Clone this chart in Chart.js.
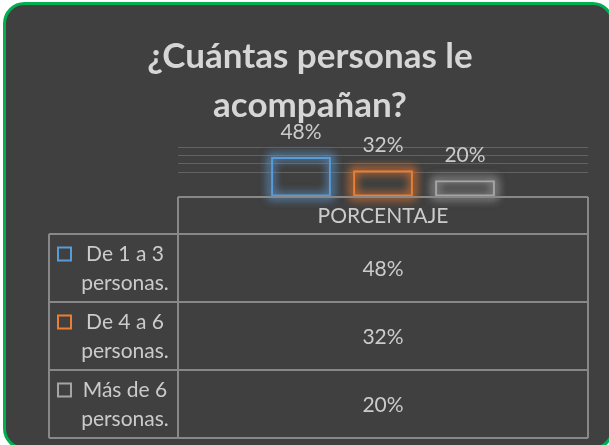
<!DOCTYPE html>
<html><head><meta charset="utf-8">
<script src="https://cdn.jsdelivr.net/npm/chart.js@4"></script>
<style>html,body{margin:0;padding:0;background:#fff;overflow:hidden}canvas{display:block}</style>
</head><body>
<canvas id="c" width="609" height="445"></canvas>
<script>
// ---- data ----
const titleLines = ['¿Cuántas personas le', 'acompañan?'];
const categories = ['PORCENTAJE'];
const seriesNames = ['De 1 a 3 personas.', 'De 4 a 6 personas.', 'Más de 6 personas.'];
const seriesLabelLines = [['De 1 a 3', 'personas.'], ['De 4 a 6', 'personas.'], ['Más de 6', 'personas.']];
const seriesValues = [0.48, 0.32, 0.20];
const seriesColors = ['#5b9bd5', '#ed7d31', '#a5a5a5'];
const yMin = 0, yMax = 0.6, yStep = 0.1;
const gridFrom = 0.3; // gridlines visible from this value upward

const pct = v => Math.round(v * 100) + '%';
const FONT = 'Lato, "Open Sans", sans-serif';
const TXT = '#cbcbcb';
const LINE = '#888888';

function roundRect(ctx, x, y, w, h, r) {
  ctx.beginPath();
  ctx.moveTo(x + r, y);
  ctx.lineTo(x + w - r, y); ctx.arcTo(x + w, y, x + w, y + r, r);
  ctx.lineTo(x + w, y + h - r); ctx.arcTo(x + w, y + h, x + w - r, y + h, r);
  ctx.lineTo(x + r, y + h); ctx.arcTo(x, y + h, x, y + h - r, r);
  ctx.lineTo(x, y + r); ctx.arcTo(x, y, x + r, y, r);
  ctx.closePath();
}
const FRAME = {x: 4.5, y: 3.5, w: 608, h: 445, r: 20};

const framePlugin = {
  id: 'frame',
  beforeDraw(chart) {
    const ctx = chart.ctx;
    ctx.save();
    ctx.fillStyle = '#ffffff';
    ctx.fillRect(0, 0, chart.width, chart.height);
    roundRect(ctx, FRAME.x, FRAME.y, FRAME.w, FRAME.h, FRAME.r);
    ctx.fillStyle = '#404040';
    ctx.fill();
    // title
    ctx.fillStyle = '#d6d6d6';
    ctx.font = 'bold 35px ' + FONT;
    ctx.textAlign = 'center';
    ctx.textBaseline = 'alphabetic';
    titleLines.forEach((t, i) => ctx.fillText(t, 310, 68 + i * 49));
    ctx.restore();
  },
  afterDraw(chart) {
    const ctx = chart.ctx;
    ctx.save();
    roundRect(ctx, FRAME.x, FRAME.y, FRAME.w, FRAME.h, FRAME.r);
    ctx.strokeStyle = '#00b050';
    ctx.lineWidth = 3;
    ctx.stroke();
    ctx.restore();
  }
};

const glowPlugin = {
  id: 'glow',
  beforeDatasetsDraw(chart) {
    const ctx = chart.ctx;
    const OFF = 10000;
    chart.data.datasets.forEach((ds, i) => {
      const meta = chart.getDatasetMeta(i);
      meta.data.forEach(el => {
        const p = el.getProps(['x', 'y', 'base', 'width'], true);
        ctx.save();
        ctx.shadowColor = ds.borderColor + 'b0';
        ctx.shadowBlur = 10;
        ctx.shadowOffsetX = OFF;
        ctx.strokeStyle = '#000';
        ctx.lineWidth = 4;
        for (let k = 0; k < 2; k++) ctx.strokeRect(p.x - p.width / 2 - OFF, p.y, p.width, p.base - p.y);
        ctx.restore();
      });
    });
  },
  afterDatasetsDraw(chart) {
    const ctx = chart.ctx;
    ctx.save();
    ctx.font = '21px ' + FONT;
    ctx.fillStyle = TXT;
    ctx.textAlign = 'center';
    ctx.textBaseline = 'alphabetic';
    chart.data.datasets.forEach((ds, i) => {
      const meta = chart.getDatasetMeta(i);
      meta.data.forEach((el, j) => {
        const p = el.getProps(['x', 'y'], true);
        ctx.fillText(pct(ds.data[j]), p.x, p.y - 18);
      });
    });
    ctx.restore();
  }
};

const tablePlugin = {
  id: 'datatable',
  afterDraw(chart) {
    const ctx = chart.ctx;
    const a = chart.chartArea;
    const left = 49, mid = a.left, right = a.right;
    const top = a.bottom, headH = 37, rowH = 68;
    const n = seriesValues.length;
    const bottom = top + headH + n * rowH;
    ctx.save();
    ctx.strokeStyle = LINE;
    ctx.lineWidth = 2;
    ctx.beginPath();
    ctx.moveTo(mid, top); ctx.lineTo(right, top);
    ctx.moveTo(mid, top); ctx.lineTo(mid, bottom);
    ctx.moveTo(right, top); ctx.lineTo(right, bottom);
    for (let i = 0; i <= n; i++) {
      const y = top + headH + i * rowH;
      ctx.moveTo(left, y); ctx.lineTo(right, y);
    }
    ctx.moveTo(left, top + headH); ctx.lineTo(left, bottom);
    ctx.stroke();

    ctx.font = '21px ' + FONT;
    ctx.fillStyle = TXT;
    ctx.textAlign = 'center';
    ctx.textBaseline = 'middle';
    const cx = (mid + right) / 2;
    ctx.fillText(categories[0], cx, top + headH / 2 + 1);
    const lcx = (72 + mid) / 2;
    for (let i = 0; i < n; i++) {
      const rt = top + headH + i * rowH;
      const rm = rt + rowH / 2;
      ctx.fillStyle = TXT;
      ctx.fillText(pct(seriesValues[i]), cx, rm + 1);
      const lines = seriesLabelLines[i];
      ctx.fillText(lines[0], lcx, rm - 14);
      ctx.fillText(lines[1], lcx, rm + 15);
      ctx.strokeStyle = seriesColors[i];
      ctx.lineWidth = 2;
      ctx.strokeRect(58, rm - 14 - 6.5, 13, 13);
    }
    ctx.restore();
  }
};

new Chart(document.getElementById('c'), {
  type: 'bar',
  data: {
    labels: categories,
    datasets: seriesNames.map((name, i) => ({
      label: name,
      data: [seriesValues[i]],
      borderColor: seriesColors[i],
      backgroundColor: 'rgba(0,0,0,0)',
      borderWidth: 2,
      borderSkipped: false,
      categoryPercentage: 0.6,
      barPercentage: 0.73
    }))
  },
  options: {
    responsive: false,
    animation: false,
    devicePixelRatio: 1,
    layout: {padding: {left: 178, right: 21, top: 147, bottom: 248}},
    plugins: {legend: {display: false}, title: {display: false}, tooltip: {enabled: false}},
    scales: {
      x: {display: false},
      y: {
        min: yMin, max: yMax,
        ticks: {display: false, stepSize: yStep},
        border: {display: false},
        grid: {
          drawTicks: false,
          lineWidth: 1,
          color: c => (c.tick && c.tick.value > gridFrom - 0.05) ? '#626262' : 'rgba(0,0,0,0)'
        }
      }
    }
  },
  plugins: [framePlugin, glowPlugin, tablePlugin]
});
</script>
</body></html>
